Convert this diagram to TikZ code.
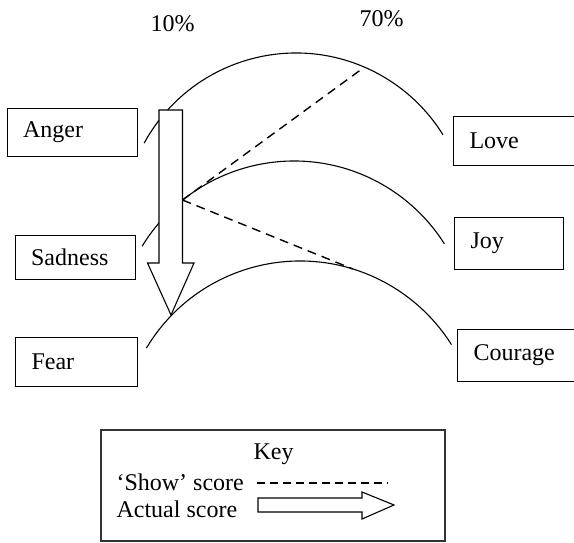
\documentclass[tikz,border=0pt]{standalone}
\usepackage{fontspec}
\setmainfont{Liberation Serif}
\begin{document}
\begin{tikzpicture}[x=1pt,y=1pt,
  line width=1.1pt,
  every node/.style={font=\fontsize{24}{28}\selectfont},
  emo/.style={draw, fill=white, anchor=north west, minimum height=#1,
              inner xsep=16pt, inner ysep=0pt, align=left},
  label/.style={anchor=base west, inner sep=0pt},
  show/.style={line width=1.4pt, dash pattern=on 9pt off 6pt},
  hollow/.style={draw, fill=white, line join=miter}]
\useasboundingbox (0,0) rectangle (574,542);
\clip (0,0) rectangle (574,542);

% percentage labels
\node[label] (p10) at (150,510) {10\%};
\node[label] (p70) at (359,515) {70\%};

% the three emotion arcs
\draw (296,316) ++(151.4:173) arc[start angle=151.4, end angle=31.8, radius=173];
\draw (294,203) ++(148.6:178) arc[start angle=148.6, end angle=32.3, radius=178];
\draw (300,102) ++(149.1:179) arc[start angle=149.1, end angle=32.2, radius=179];

% actual score arrow
\draw[hollow] (159,432) -- (182.5,432) -- (182.5,279) -- (194,279)
  -- (171,227) -- (147.5,279) -- (159,279) -- cycle;

% 'show' score lines
\coordinate (J) at (182.5,342);
\coordinate (S1) at ([shift={(296,316)}]66.7:173);
\coordinate (S2) at ([shift={(300,102)}]72.8:179);
\draw[show] (J) -- (S1);
\draw[show] (J) -- (S2);

% emotion boxes
\node[emo=48pt, text width=98pt] (anger) at (6.6,434) {Anger};
\node[emo=49pt, text width=94pt] (love) at (453,426) {Love};
\node[emo=44pt, text width=88pt] (sadness) at (14.6,307) {Sadness};
\node[emo=52pt, text width=77pt] (joy) at (454,325) {Joy};
\node[emo=49pt, text width=90pt] (fear) at (15,205) {Fear};
\node[emo=52pt, text width=90pt] (courage) at (457,213) {Courage};

% key
\draw[draw=black!80] (101,1) rectangle (445,112);
\node[label] (key) at (253,82) {Key};
\node[label] (showlbl) at (116,52) {`Show' score};
\node[label] (actlbl) at (116,25) {Actual score};
\coordinate (k1) at (257,59);
\coordinate (k2) at (388,59);
\draw[show, dash pattern=on 8pt off 5pt] (k1) -- (k2);
\draw[hollow] (258,44) -- (362,44) -- (362,50) -- (394,37) -- (362,23)
  -- (362,30) -- (258,30) -- cycle;
\end{tikzpicture}
\end{document}
